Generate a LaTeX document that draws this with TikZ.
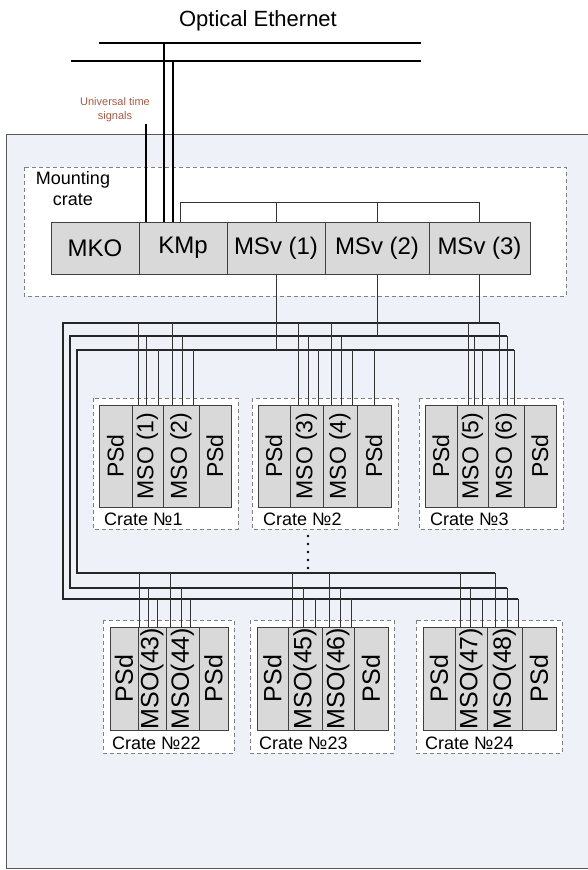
\documentclass[tikz,border=0pt]{standalone}
\usepackage{fontspec}
\setmainfont{Liberation Sans}
\usepackage{graphicx}
\usetikzlibrary{positioning}

\definecolor{panelbg}{RGB}{238,242,248}
\definecolor{modfill}{RGB}{217,217,217}
\definecolor{framegray}{RGB}{128,128,128}
\definecolor{utbrown}{RGB}{165,90,70}

\tikzset{
  modbox/.style={draw=black!75, fill=modfill, line width=0.9pt, inner sep=0pt, outer sep=0pt,
    minimum height=52pt, font=\fontsize{24}{28}\selectfont},
  slotbox/.style={draw=black!75, fill=modfill, line width=0.9pt, inner sep=0pt, outer sep=0pt,
    font=\fontsize{23}{26}\selectfont},
  crateframe/.style={draw=framegray, fill=white, line width=0.8pt, dash pattern=on 4pt off 3pt},
  busline/.style={line width=1.8pt, black!85},
  dropline/.style={line width=0.9pt, black!80},
  cratelabel/.style={anchor=west, inner sep=0pt, font=\fontsize{18}{20}\selectfont},
}

\begin{document}
\begin{tikzpicture}[x=1pt,y=-1pt]
\useasboundingbox (0,0) rectangle (588,870);

% cabinet
\draw[draw=black!65, fill=panelbg, line width=1pt] (6,134) rectangle (600,868);

% optical ethernet
\node[font=\fontsize{22}{24}\selectfont] (eth) at (258,21) {Optical Ethernet};
\coordinate (eth1w) at (99,43);  \coordinate (eth1e) at (421,43);
\coordinate (eth2w) at (71,61);  \coordinate (eth2e) at (421,61);
\draw[line width=1.6pt] (eth1w) -- (eth1e);
\draw[line width=1.6pt] (eth2w) -- (eth2e);

\node[utbrown, align=center, font=\fontsize{11}{14}\selectfont] (uts) at (115,110) {Universal time\\signals};
\coordinate (utin) at (146,124);

% mounting crate
\draw[crateframe] (24,167) rectangle (566,296);
\node[align=center, font=\fontsize{18}{21}\selectfont] (mtext) at (73,189) {Mounting\\crate};
\node[modbox, minimum width=88pt] (mko) at (95,248) {MKO};
\node[modbox, minimum width=88pt, right=0pt of mko] (kmp) {KMp};
\node[modbox, minimum width=98pt, right=0pt of kmp] (msv1) {MSv (1)};
\node[modbox, minimum width=104pt, right=0pt of msv1] (msv2) {MSv (2)};
\node[modbox, minimum width=101pt, right=0pt of msv2] (msv3) {MSv (3)};

\draw[line width=1.3pt] (utin) -- (utin |- kmp.north);
\draw[line width=1.3pt] (164,0 |- eth1w) -- (164,0 |- kmp.north);
\draw[line width=1.3pt] (173,0 |- eth2w) -- (173,0 |- kmp.north);
\coordinate (msvbus) at (180,202);
\draw[dropline] (msvbus |- kmp.north) -- (msvbus) -- (msvbus -| msv3.north) -- (msv3.north);
\draw[dropline] (msvbus -| msv1.north) -- (msv1.north);
\draw[dropline] (msvbus -| msv2.north) -- (msv2.north);

% crates, upper row
\foreach \n/\xa/\xb/\xc/\xd/\xe/\la/\lb in {1/99/132/163/199/231/MSO (1)/MSO (2),
    2/258/290/323/357/391/MSO (3)/MSO (4), 3/425/457/488/524/556/MSO (5)/MSO (6)} {
  \draw[crateframe] ({\xa-6},398) rectangle ({\xe+7},529);
  \node[slotbox, minimum width={(\xb-\xa)*1pt}, minimum height=102pt] (c\n a) at ({(\xa+\xb)/2},456) {\rotatebox{90}{PSd}};
  \node[slotbox, minimum width={(\xc-\xb)*1pt}, minimum height=102pt] (c\n b) at ({(\xb+\xc)/2},456) {\rotatebox{90}{\la}};
  \node[slotbox, minimum width={(\xd-\xc)*1pt}, minimum height=102pt] (c\n c) at ({(\xc+\xd)/2},456) {\rotatebox{90}{\lb}};
  \node[slotbox, minimum width={(\xe-\xd)*1pt}, minimum height=102pt] (c\n d) at ({(\xd+\xe)/2},456) {\rotatebox{90}{PSd}};
  \node[cratelabel] (c\n l) at ({\xa+5},519) {Crate №\n};
}

% crates, lower row
\foreach \n/\xa/\xb/\xc/\xd/\xe/\la/\lb in {22/110/138/166/199/228/MSO(43)/MSO(44),
    23/257/288/322/354/388/MSO(45)/MSO(46), 24/423/455/487/522/556/MSO(47)/MSO(48)} {
  \draw[crateframe] ({\xa-7},620) rectangle ({\xe+6},753);
  \node[slotbox, font=\fontsize{25}{28}\selectfont, minimum width={(\xb-\xa)*1pt}, minimum height=103pt] (c\n a) at ({(\xa+\xb)/2},678.5) {\rotatebox{90}{PSd}};
  \node[slotbox, font=\fontsize{25}{28}\selectfont, minimum width={(\xc-\xb)*1pt}, minimum height=103pt] (c\n b) at ({(\xb+\xc)/2},678.5) {\rotatebox{90}{\la}};
  \node[slotbox, font=\fontsize{25}{28}\selectfont, minimum width={(\xd-\xc)*1pt}, minimum height=103pt] (c\n c) at ({(\xc+\xd)/2},678.5) {\rotatebox{90}{\lb}};
  \node[slotbox, font=\fontsize{25}{28}\selectfont, minimum width={(\xe-\xd)*1pt}, minimum height=103pt] (c\n d) at ({(\xd+\xe)/2},678.5) {\rotatebox{90}{PSd}};
  \node[cratelabel] (c\n l) at ({\xa+2},743) {Crate №\n};
}

% buses
\coordinate (b1) at (63,323); \coordinate (b2) at (70,336); \coordinate (b3) at (77,350);
\coordinate (r1) at (63,599); \coordinate (r2) at (70,588); \coordinate (r3) at (77,573);
\draw[busline] (499,0 |- b1) -- (b1) -- (r1) -- (518,0 |- r1);
\draw[busline] (507,0 |- b2) -- (b2) -- (r2) -- (507,0 |- r2);
\draw[busline] (514,0 |- b3) -- (b3) -- (r3) -- (495,0 |- r3);

\draw[dropline] (msv1.south) -- (msv1.south |- b3);
\draw[dropline] (msv2.south) -- (msv2.south |- b2);
\draw[dropline] (msv3.south) -- (msv3.south |- b1);

\foreach \x/\bs in {138/b1,146/b2,158/b3,172/b1,182/b2,193/b3,
    298/b1,308/b2,318/b3,331/b1,341/b2,352/b3,374/b3,
    468/b1,474/b2,482/b3,499/b1,507/b2,514/b3}
  \draw[dropline] (\x,0 |- \bs) -- (\x,0 |- c1a.north);

\foreach \x/\bs in {139/r3,148/r2,157/r1,170/r3,181/r2,190/r1,
    292/r3,303/r2,315/r1,329/r3,340/r2,351/r1,
    460/r3,470/r2,482/r1,495/r3,507/r2,518/r1}
  \draw[dropline] (\x,0 |- \bs) -- (\x,0 |- c22a.north);

% more crates
\foreach \y in {536,544,...,568}
  \fill (308,\y) circle (1.4pt);
\end{tikzpicture}
\end{document}
